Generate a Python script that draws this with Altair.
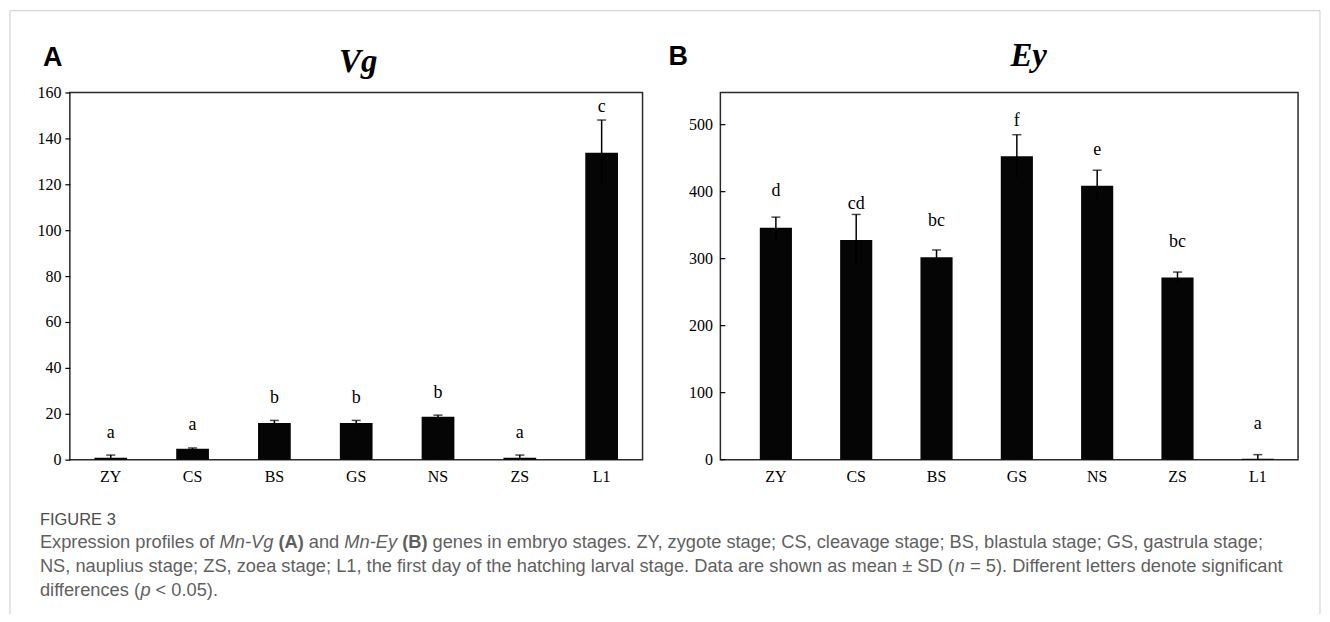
import altair as alt
import pandas as pd

# ---------------- data ----------------
stages = ["ZY", "CS", "BS", "GS", "NS", "ZS", "L1"]

vg_mean = [0.8, 4.8, 16.0, 16.0, 18.7, 0.8, 133.8]
vg_sd = [1.2, 0.3, 1.1, 1.1, 0.7, 1.2, 14.2]
vg_letters = ["a", "a", "b", "b", "b", "a", "c"]
vg_letter_y = [9.4, 13.1, 24.5, 24.5, 27.0, 9.4, 151.6]
vg_ticks = [0, 20, 40, 60, 80, 100, 120, 140, 160]

ey_mean = [346, 328, 302, 453, 409, 272, 1.5]
ey_sd = [16, 38, 11, 32, 23, 8, 6]
ey_letters = ["d", "cd", "bc", "f", "e", "bc", "a"]
ey_letter_y = [393, 373.5, 348.7, 497.5, 454.4, 317.5, 46]
ey_ticks = [0, 100, 200, 300, 400, 500]

caption_label = "FIGURE 3"
# each line: list of (text, style) ; style n=normal, i=italic, b=bold
caption_lines = [
    [("Expression profiles of", "n"), ("Mn-Vg", "i"), ("(A)", "b"), ("and", "n"),
     ("Mn-Ey", "i"), ("(B)", "b"),
     ("genes in embryo stages. ZY, zygote stage; CS, cleavage stage; BS, blastula stage; GS, gastrula stage;", "n")],
    [("NS, nauplius stage; ZS, zoea stage; L1, the first day of the hatching larval stage. Data are shown as mean \u00b1 SD (", "n"),
     ("n", "i"), ("= 5). Different letters denote significant", "n")],
    [("differences (", "n"), ("p", "i"), ("< 0.05).", "n")],
]
# which segment boundaries have a space between them
caption_spaces = [
    [True, True, True, True, True, True],
    [False, True],
    [False, True],
]

SERIF = "Liberation Serif"
SANS = "Liberation Sans"
CAP_FONT = "Liberation Sans"
CAP_COLOR = "#5f5f5f"

A_LEFT, TOP = 68, 90  # page coords of panel A plot origin
CAP_X0 = 38
CAP_LINE_END = [1253.5, 1298]
CAP_Y = [542, 566, 590]

# Helvetica / Arial (= Liberation Sans) advance widths, 1/1000 em
_W = dict(zip("abcdefghijklmnopqrstuvwxyz",
              [556, 556, 500, 556, 556, 278, 556, 556, 222, 222, 500, 222, 833,
               556, 556, 556, 556, 333, 500, 278, 556, 500, 722, 500, 500, 500]))
_W.update(dict(zip("ABCDEFGHIJKLMNOPQRSTUVWXYZ",
                   [667, 667, 722, 722, 667, 611, 778, 722, 278, 500, 667, 556, 833,
                    722, 778, 667, 778, 722, 667, 611, 722, 667, 944, 667, 667, 611])))
_W.update({c: 556 for c in "0123456789"})
_W.update({" ": 278, ".": 278, ",": 278, ";": 278, ":": 278, "-": 333, "(": 333,
           ")": 333, "=": 584, "<": 584, "\u00b1": 584})
_WB = dict(_W)
_WB.update({"A": 722, "B": 722, "(": 333, ")": 333})


def em(s, bold=False):
    t = _WB if bold else _W
    return sum(t.get(c, 556) for c in s) / 1000.0


def line_em(segs, spaces):
    tot = sum(em(s, st == "b") for s, st in segs)
    tot += sum(0.278 for sp in spaces if sp)
    return tot


_s1 = (CAP_LINE_END[0] - CAP_X0) / line_em(caption_lines[0], caption_spaces[0])
_s2 = (CAP_LINE_END[1] - CAP_X0) / line_em(caption_lines[1], caption_spaces[1])
CAP_SIZE = round((_s1 + _s2) / 2, 2)


def one(txt):
    return alt.Chart(pd.DataFrame({"t": [txt]}))


def panel(mean, sd, letters, letter_y, domain, ticks, pad_outer, align, ticks_out, label_pad):
    df = pd.DataFrame({
        "stage": stages,
        "mean": mean,
        "hi": [m + s for m, s in zip(mean, sd)],
        "lo": [max(0.0, m - s) for m, s in zip(mean, sd)],
        "letter": letters,
        "ly": letter_y,
    })
    xscale = alt.Scale(paddingInner=0.6, paddingOuter=pad_outer, align=align)
    xaxis = alt.Axis(title=None, labelAngle=0, labelFont=SERIF, labelFontSize=16,
                     labelColor="black", ticks=False, domain=False, labelPadding=9,
                     grid=False)
    x = alt.X("stage:N", sort=stages, scale=xscale, axis=xaxis)
    yaxis = alt.Axis(title=None, values=ticks, labelFont=SERIF, labelFontSize=16,
                     labelColor="black", domain=False, grid=False,
                     ticks=ticks_out, tickSize=5, tickColor="black", tickWidth=1.2,
                     labelPadding=label_pad)
    y = alt.Y("mean:Q", scale=alt.Scale(domain=domain, nice=False), axis=yaxis)

    base = alt.Chart(df)
    bars = base.mark_bar(color="#050505").encode(x=x, y=y)
    err = base.mark_rule(color="black", strokeWidth=1.5).encode(
        x=alt.X("stage:N", sort=stages), y=alt.Y("lo:Q", title=None), y2="hi:Q")
    cap = base.mark_tick(color="black", thickness=1.5, size=9).encode(
        x=alt.X("stage:N", sort=stages), y=alt.Y("hi:Q", title=None))
    lett = base.mark_text(font=SERIF, fontSize=18, baseline="alphabetic",
                          color="black").encode(
        x=alt.X("stage:N", sort=stages), y=alt.Y("ly:Q", title=None), text="letter:N")
    layers = [bars, err, cap, lett]
    if not ticks_out:
        tk = alt.Chart(pd.DataFrame({"t": ticks})).mark_rule(
            color="black", strokeWidth=1.2).encode(
            y=alt.Y("t:Q", title=None), x=alt.value(0), x2=alt.value(5))
        layers.append(tk)
    return layers


# ---------------- panel A ----------------
A_layers = panel(vg_mean, vg_sd, vg_letters, vg_letter_y, [0, 160], vg_ticks,
                 0.3, 0.5, True, 4)
A_layers.append(one("A").mark_text(font=SANS, fontWeight="bold", fontSize=27,
                                   align="left", baseline="alphabetic", color="black")
                .encode(x=alt.value(41 - A_LEFT), y=alt.value(63 - TOP), text="t:N"))
A_layers.append(one("Vg").mark_text(font=SERIF, fontWeight="bold", fontStyle="italic",
                                    fontSize=33, align="center", baseline="alphabetic",
                                    color="black")
                .encode(x=alt.value(357 - A_LEFT), y=alt.value(69 - TOP), text="t:N"))
# figure frame (light grey)
for enc in [dict(x=alt.value(8 - A_LEFT), y=alt.value(8 - TOP), y2=alt.value(613 - TOP)),
            dict(x=alt.value(8 - A_LEFT), x2=alt.value(1321 - A_LEFT), y=alt.value(8 - TOP)),
            dict(x=alt.value(1321 - A_LEFT), y=alt.value(8 - TOP), y2=alt.value(613 - TOP))]:
    A_layers.append(one("").mark_rule(color="#cccccc", strokeWidth=1).encode(**enc))

# caption
A_layers.append(one(caption_label).mark_text(font=CAP_FONT, fontSize=16.5, color="#4d4d4d",
                                             align="left", baseline="middle")
                .encode(x=alt.value(CAP_X0 - A_LEFT), y=alt.value(518 - TOP), text="t:N"))
for segs, spaces, py in zip(caption_lines, caption_spaces, CAP_Y):
    cursor = CAP_X0
    for k, (txt, st) in enumerate(segs):
        A_layers.append(one(txt).mark_text(
            font=CAP_FONT, fontSize=CAP_SIZE, color=CAP_COLOR,
            fontStyle="italic" if st == "i" else "normal",
            fontWeight="bold" if st == "b" else "normal",
            align="left", baseline="middle")
            .encode(x=alt.value(round(cursor - A_LEFT, 2)), y=alt.value(py - TOP), text="t:N"))
        cursor += em(txt, st == "b") * CAP_SIZE
        if k < len(spaces) and spaces[k]:
            cursor += 0.278 * CAP_SIZE

chartA = alt.layer(*A_layers).properties(width=574, height=368)

# ---------------- panel B ----------------
B_LEFT = 720
B_layers = panel(ey_mean, ey_sd, ey_letters, ey_letter_y, [0, 548], ey_ticks,
                 0.396, 0.62, False, 8)
B_layers.append(one("B").mark_text(font=SANS, fontWeight="bold", fontSize=27,
                                   align="left", baseline="alphabetic", color="black")
                .encode(x=alt.value(668 - B_LEFT), y=alt.value(62 - TOP), text="t:N"))
B_layers.append(one("Ey").mark_text(font=SERIF, fontWeight="bold", fontStyle="italic",
                                    fontSize=33, align="center", baseline="alphabetic",
                                    color="black")
                .encode(x=alt.value(1029 - B_LEFT), y=alt.value(63 - TOP), text="t:N"))
chartB = alt.layer(*B_layers).properties(width=579, height=368)

chart = (alt.hconcat(chartA, chartB, spacing=B_LEFT - (A_LEFT + 574), bounds="flush")
         .properties(padding=0)
         .configure(background="white")
         .configure_view(stroke="#2a2a2a", strokeWidth=1.5))

chart.save("out.html", embed_options={"renderer": "svg", "actions": False})
